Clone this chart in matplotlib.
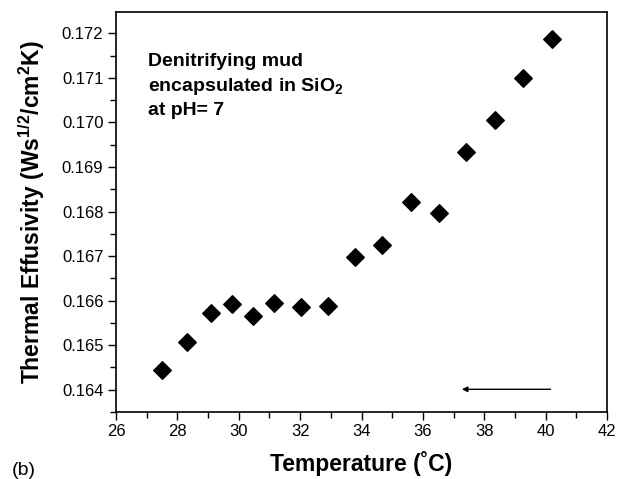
import matplotlib.pyplot as plt
from matplotlib.ticker import MultipleLocator

plt.rcParams['font.family'] = ['Liberation Sans', 'DejaVu Sans']
plt.rcParams['mathtext.fontset'] = 'custom'
plt.rcParams['mathtext.rm'] = 'Liberation Sans'
plt.rcParams['mathtext.bf'] = 'Liberation Sans:bold'

# temperature (C) and thermal effusivity
temperature = [27.50, 28.31, 29.08, 29.78, 30.45, 31.15, 32.02, 32.90,
               33.79, 34.67, 35.61, 36.51, 37.42, 38.35, 39.25, 40.21]
effusivity = [0.16445, 0.16508, 0.16573, 0.16593, 0.16566, 0.16595, 0.16586, 0.16588,
              0.16698, 0.16725, 0.16822, 0.16796, 0.16934, 0.17006, 0.17099, 0.17188]

fig = plt.figure(figsize=(6.18, 4.79), dpi=100)
ax = fig.add_axes([116 / 618, 1 - 412 / 479, (607 - 116) / 618, (412 - 12) / 479])

ax.scatter(temperature, effusivity, marker='D', s=80, color='black', zorder=3)

ax.set_xlim(26, 42)
ax.set_ylim(0.16350, 0.17248)
ax.xaxis.set_major_locator(MultipleLocator(2))
ax.xaxis.set_minor_locator(MultipleLocator(1))
ax.yaxis.set_major_locator(MultipleLocator(0.001))
ax.yaxis.set_minor_locator(MultipleLocator(0.0005))
ax.yaxis.set_major_formatter(plt.FormatStrFormatter('%.3f'))
ax.tick_params(which='major', direction='out', length=6, width=1, labelsize=12, pad=3)
ax.tick_params(which='minor', direction='out', length=4, width=1)
for s in ax.spines.values():
    s.set_linewidth(1.2)

ax.set_xlabel('Temperature (˚C)', fontsize=16.5, fontweight='bold', labelpad=8)
ax.set_ylabel('Thermal Effusivity (Ws$^{\\mathbf{1/2}}$/cm$^{\\mathbf{2}}$K)',
              fontsize=16.5, fontweight='bold', labelpad=11)

ax.text(27.05, 0.17157, 'Denitrifying mud\nencapsulated in SiO$_{\\mathbf{2}}$\nat pH= 7',
        fontsize=14, fontweight='bold', va='top', ha='left', linespacing=1.4)

ax.annotate('', xy=(37.18, 0.16401), xytext=(40.25, 0.16401),
            arrowprops=dict(arrowstyle='-|>', color='black', lw=1, mutation_scale=8))

fig.text(12 / 618, 0.0, '(b)', fontsize=14, ha='left', va='bottom')

fig.savefig('out.png', dpi=100)
